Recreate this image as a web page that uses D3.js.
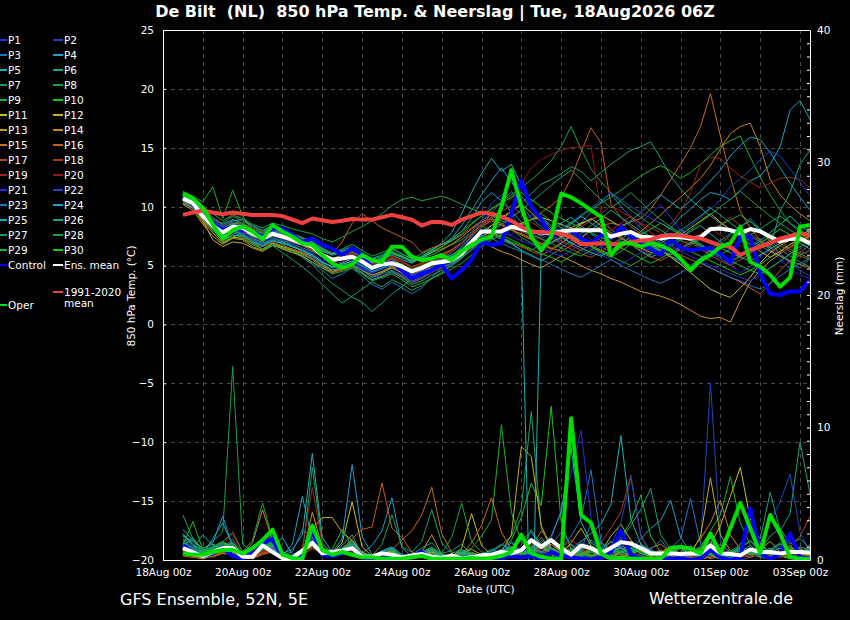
<!DOCTYPE html>
<html><head><meta charset="utf-8">
<script src="https://cdn.jsdelivr.net/npm/d3@7"></script>
<style>
html,body{margin:0;padding:0;background:#000;}
svg{display:block;font-family:"DejaVu Sans",sans-serif;}
</style></head><body>
<svg id="chart" width="850" height="620"></svg>
<script>
// ---------- time axis (forecast hours from 18Aug 00z, 6-hourly from 12z) ----------
const hours = d3.range(12, 391, 6);
const xTickHours = [0,48,96,144,192,240,288,336,384];
const xTickLabels = ["18Aug 00z","20Aug 00z","22Aug 00z","24Aug 00z","26Aug 00z","28Aug 00z","30Aug 00z","01Sep 00z","03Sep 00z"];
const tempTicks = [-20,-15,-10,-5,0,5,10,15,20,25];
const precipMajor = [0,10,20,30,40];

// ---------- 850 hPa temperature (°C) ----------
const tControl = [10.8,10.2,9.3,8.6,8.0,8.3,8.0,7.9, 7.4,8.15,8.15,7.6,7.0,7.3,6.75,6.45, 5.9,6.45,5.9,4.8,5.1,5.3,4.6,3.9, 4.3,4.6,5.1,3.9,4.6,5.5,7.0,6.75, 6.9,9.4,12.2,10.0,8.9,7.45,7.9,8.0, 7.3,6.9,7.6,7.3,8.3,7.45,6.9,6.4, 5.9,7.3,6.5,6.3,6.4,6.5,6.0,5.3, 7.45,7.45,4.3,2.6,2.5,2.8,2.8,3.8];
const tMean = [10.7,10.3,9.2,8.4,7.8,8.3,8.2,7.7, 7.3,7.7,7.45,7.2,6.9,6.6,5.9,5.5, 5.6,5.75,5.35,4.8,5.1,5.2,4.9,4.5, 4.8,5.2,5.3,5.45,6.0,7.0,7.9,7.9, 7.9,8.3,8.1,7.9,7.8,7.75,7.9,8.0, 8.0,8.0,8.0,7.45,7.7,7.85,7.45,7.4, 7.3,7.45,7.4,7.3,7.4,8.1,8.15,8.0, 7.75,8.1,7.9,7.45,7.05,7.25,7.3,6.9];
const tClimate = [9.3,9.5,9.65,9.5,9.35,9.5,9.4,9.3, 9.3,9.3,9.2,8.9,8.6,9.0,8.85,8.7, 8.8,8.95,8.9,8.9,9.1,9.3,9.1,8.9, 8.4,8.7,8.7,8.45,8.9,9.2,9.5,9.4, 9.15,8.8,8.3,7.9,7.8,7.8,7.7,7.4, 6.8,6.85,6.9,6.8,6.8,7.0,7.1,7.2, 7.5,7.6,7.55,7.4,7.3,7.0,6.7,6.6, 5.9,6.3,6.6,6.9,7.3,7.5,7.75,7.6];
const tOper = [11.1,10.7,9.9,8.5,7.3,8.0,8.3,7.9, 7.2,8.45,7.9,7.45,6.9,6.75,5.9,5.2, 4.8,5.1,5.9,5.45,5.3,6.6,6.6,5.75, 5.45,5.6,5.9,5.45,6.2,6.75,7.2,7.45, 10.0,13.1,10.0,7.45,6.3,7.45,11.1,10.8, 10.3,9.7,9.15,5.9,6.9,6.9,6.6,6.9, 6.7,6.3,5.6,4.6,5.45,5.9,6.6,6.9, 8.3,5.3,4.9,4.2,3.2,4.0,8.3,8.45];

const tP1 = [10.9,10.4,9.6,8.9,8.2,8.6,8.5,8.0, 7.6,7.9,7.3,7.0,6.4,6.0,5.5,5.2, 5.6,5.3,4.7,4.1,4.5,4.9,4.3,3.8, 4.2,4.9,5.6,5.9,6.5,7.4,8.6,9.1, 8.2,7.6,8.4,9.3,8.8,7.7,6.9,7.4, 8.1,7.2,6.6,6.1,6.8,7.5,8.6,9.4, 10.2,9.1,8.0,7.3,6.6,6.0,5.6,5.0, 4.4,4.9,5.8,6.3,5.5,4.7,4.2,3.9];
const tP2 = [10.6,10.2,9.1,8.0,7.4,7.9,7.6,7.2, 6.9,7.3,7.0,6.8,6.2,5.7,5.0,4.6, 4.9,5.3,4.8,4.3,3.9,4.4,4.0,3.5, 3.9,4.6,5.0,5.4,6.1,7.6,8.8,10.3, 11.0,9.4,8.1,7.2,6.6,6.9,7.5,6.8, 6.3,5.9,6.6,7.4,8.2,7.1,6.5,5.9, 6.4,7.3,8.1,7.4,6.9,6.2,5.6,5.1, 5.8,6.7,7.3,6.5,5.9,5.2,4.6,4.1];
const tP3 = [11.0,10.5,9.4,8.6,7.9,8.1,7.7,7.0, 6.6,7.0,6.5,6.1,5.8,5.2,4.6,3.9, 4.3,4.8,4.1,3.4,3.0,3.6,3.1,2.6, 3.1,4.0,4.8,5.1,5.7,6.9,8.2,9.5, 10.4,11.3,10.2,9.0,8.3,7.5,6.8,7.7, 8.6,9.5,10.4,11.1,10.0,9.1,8.2,7.3, 6.5,5.8,5.2,4.7,5.3,6.1,6.8,7.6, 8.3,9.0,8.1,7.0,6.0,5.3,4.8,5.6];
const tP4 = [10.5,10.1,9.3,8.7,8.3,8.8,8.9,8.4, 8.0,8.4,8.1,7.7,7.3,7.0,6.4,6.0, 6.3,6.6,6.1,5.6,5.9,6.4,6.0,5.5, 5.8,6.3,6.8,7.2,7.9,9.0,10.4,11.2, 10.5,9.6,8.7,8.0,7.5,7.9,8.6,9.1, 8.4,7.7,7.1,6.6,7.2,7.9,7.3,6.8, 7.4,8.2,9.1,9.8,10.6,11.2,11.0,10.6, 11.4,12.2,12.6,13.6,15.1,18.2,19.0,17.4];
const tP5 = [11.2,10.8,9.9,9.1,8.5,8.9,8.6,8.1, 7.8,8.2,7.8,7.5,7.1,6.8,6.2,5.9, 6.1,6.4,5.8,5.2,5.5,5.9,5.5,5.2, 5.7,6.3,6.9,7.8,9.4,11.2,12.8,14.1, 13.0,13.6,11.8,10.1,9.0,8.2,7.5,6.9, 7.4,8.0,8.7,8.1,7.4,6.8,6.2,5.7, 6.1,6.6,7.2,7.9,8.4,7.7,7.0,6.4, 5.9,6.5,7.1,7.8,8.5,9.2,8.4,7.8];
const tP6 = [10.4,10.0,8.9,8.2,7.3,7.8,7.5,7.1, 6.7,7.1,6.9,6.6,6.3,5.9,5.3,4.8, 5.0,5.4,4.9,4.4,4.7,5.0,4.6,4.1, 4.5,5.0,5.4,5.8,6.4,7.2,7.9,8.4, 8.9,9.6,10.3,11.1,11.9,12.3,12.8,13.4, 13.0,12.2,12.9,13.6,14.2,14.8,15.1,15.5, 14.1,12.6,11.5,10.6,9.9,9.2,8.6,8.1, 7.6,7.1,6.7,6.2,5.8,5.4,5.9,6.3];
const tP7 = [11.1,10.6,9.7,8.8,8.0,8.4,8.0,7.4, 6.9,7.2,6.8,6.3,5.7,5.1,4.2,3.5, 2.9,2.3,1.9,1.1,1.8,2.6,3.2,3.9, 4.4,4.9,5.3,5.8,6.6,7.5,8.3,9.0, 8.6,8.1,7.4,6.9,6.4,6.9,7.3,7.8, 7.2,6.6,6.1,5.7,6.2,6.8,7.4,6.9, 6.3,5.8,5.4,5.0,5.6,6.3,7.1,7.7, 8.3,8.8,7.9,7.1,6.4,5.8,5.3,4.9];
const tP8 = [10.8,10.3,9.5,8.9,8.6,9.2,8.8,8.3, 7.9,8.3,8.0,7.7,7.4,7.0,6.5,6.1, 6.4,6.8,6.3,5.8,6.1,6.5,6.0,5.6, 6.0,6.4,6.8,7.3,7.9,8.6,9.2,9.8, 10.4,11.0,11.6,12.3,13.0,13.9,15.1,16.8, 14.9,13.2,12.1,11.2,10.4,9.7,9.1,8.5, 8.0,7.5,7.1,6.8,7.3,7.9,8.4,8.9, 9.3,8.7,8.1,7.5,6.9,6.4,6.0,5.6];
const tP9 = [11.3,10.9,10.4,11.7,9.0,11.4,9.2,8.0, 7.5,7.6,7.1,6.9,6.5,6.2,5.8,5.4, 5.7,6.1,5.7,5.3,5.6,6.0,5.7,5.3, 5.6,5.9,6.3,6.8,7.2,7.8,8.4,7.9, 7.4,7.0,6.7,6.3,6.8,7.4,8.0,8.6, 9.2,9.8,10.3,10.8,11.4,12.0,12.6,13.1, 13.5,13.0,12.4,12.9,13.6,14.4,15.1,15.6, 16.0,14.2,12.5,11.0,9.7,8.6,7.8,7.1];
const tP10 = [10.7,10.2,9.0,8.3,7.6,8.1,8.0,7.5, 7.2,7.6,7.4,7.1,6.8,6.5,5.9,5.6, 5.8,6.0,5.5,5.0,5.3,5.5,5.1,4.7, 5.0,5.4,5.6,5.9,6.4,7.1,7.7,8.1, 7.6,7.2,6.8,6.4,6.0,5.7,5.3,5.8, 6.3,6.9,7.5,7.0,6.5,6.1,5.6,5.2, 5.6,6.1,6.6,6.2,5.8,5.4,5.0,4.6, 4.2,4.6,5.1,5.7,6.2,6.8,7.3,7.9];
const tP11 = [10.3,9.9,8.7,7.8,6.9,7.4,7.3,6.8, 6.4,6.9,6.6,6.4,6.1,5.8,5.3,4.9, 5.2,5.6,5.2,4.7,5.0,5.4,5.1,4.6, 4.9,5.3,5.5,5.7,6.1,6.6,7.2,7.6, 8.0,8.3,8.6,8.9,9.1,8.8,8.5,8.2, 8.6,8.9,9.3,8.8,8.3,7.8,7.3,6.8, 6.3,5.7,5.1,4.4,3.7,3.0,2.6,2.3, 3.1,4.0,5.2,6.1,6.7,7.2,7.6,8.0];
const tP12 = [10.6,10.1,8.8,7.2,6.6,7.0,6.9,6.5, 6.2,6.7,6.5,6.3,6.0,5.6,5.0,4.5, 4.8,5.1,4.6,4.0,4.4,4.8,4.4,3.9, 4.3,4.8,5.1,5.5,6.0,6.7,7.6,8.4, 9.1,9.6,10.2,9.5,8.7,8.0,7.4,7.9, 8.5,9.0,8.4,7.8,7.3,6.9,6.5,6.1, 6.6,7.1,7.6,8.2,8.8,9.4,8.7,8.0, 7.4,6.8,6.2,5.7,6.2,6.8,7.2,7.5];
const tP13 = [10.2,9.7,8.5,7.5,6.8,7.3,7.2,6.6, 6.3,6.8,6.4,6.1,5.8,5.3,4.8,4.4, 4.7,5.0,4.6,4.2,4.5,4.9,4.6,4.2, 4.6,5.0,5.3,5.6,6.0,6.5,7.0,6.6, 6.2,5.9,5.5,5.1,4.8,5.3,5.8,5.4, 5.0,4.6,4.3,3.9,3.6,3.2,2.8,2.6, 2.4,2.1,1.7,1.2,0.7,0.5,0.6,0.2, 2.0,3.6,4.6,5.4,6.0,6.6,7.1,7.5];
const tP14 = [10.9,10.5,9.7,8.7,7.9,8.5,8.3,7.8, 7.4,7.9,7.6,7.3,7.0,6.7,6.0,5.6, 5.9,6.2,5.7,5.2,5.6,6.1,5.8,5.4, 5.7,6.1,6.4,6.8,7.4,8.1,8.7,9.0, 8.5,8.1,7.6,7.2,6.8,6.4,6.9,7.5, 7.1,6.7,6.3,5.9,6.5,7.2,7.9,8.6, 9.3,10.1,10.8,11.6,12.4,13.5,14.9,16.2, 16.8,17.1,15.1,12.3,11.0,10.1,9.4,8.8];
const tP15 = [10.5,10.0,9.0,8.1,7.5,8.0,7.9,7.3, 7.0,7.5,7.3,7.0,6.7,6.3,5.7,5.3, 5.5,5.8,5.4,4.9,5.2,5.6,5.3,4.9, 5.2,5.6,5.9,6.3,6.9,7.6,8.3,8.8, 8.4,8.0,7.7,7.3,6.9,6.5,6.2,6.7, 7.3,8.0,8.3,8.6,8.4,8.7,9.0,9.8, 11.0,12.3,13.6,15.0,16.8,19.6,16.0,12.5, 9.6,8.2,7.1,6.3,5.8,5.4,5.1,4.8];
const tP16 = [10.8,10.4,9.5,8.6,7.7,8.2,8.1,7.6, 7.3,7.7,7.5,7.3,7.0,6.8,6.3,6.0, 7.0,8.6,9.4,8.8,8.2,7.8,7.4,7.0, 6.1,6.5,6.8,7.1,7.6,8.2,8.8,9.3, 9.0,8.7,8.4,8.9,9.5,10.1,10.8,12.4, 14.6,16.7,15.4,10.2,9.1,8.3,7.7,7.2, 6.7,6.3,5.9,5.5,5.2,4.8,4.4,4.0, 3.6,3.1,2.6,3.5,4.6,5.4,6.1,6.8];
const tP17 = [10.4,9.9,8.8,8.0,7.2,7.6,7.4,6.9, 6.6,7.0,6.7,6.4,6.1,5.6,4.9,4.4, 4.6,4.9,4.4,3.8,4.1,4.5,4.1,3.6, 3.9,4.4,4.8,5.2,5.8,6.6,7.3,7.8, 7.3,6.9,6.6,6.2,5.9,6.3,6.8,6.4, 6.0,5.7,6.2,6.8,7.3,6.8,6.3,5.8, 5.4,5.9,6.5,7.0,6.4,5.9,5.4,5.0, 5.5,6.0,6.6,7.2,6.7,6.2,5.8,5.5];
const tP18 = [11.0,10.6,9.8,9.1,8.4,8.7,8.6,8.2, 7.8,8.1,7.8,7.4,7.0,6.6,5.9,5.4, 5.6,5.9,5.3,4.7,5.0,5.4,5.0,4.5, 4.8,5.3,5.7,6.1,6.8,7.7,8.5,9.1, 9.6,10.1,9.4,8.7,8.1,7.6,7.1,6.7, 6.3,6.8,7.4,8.0,8.6,9.2,8.5,7.8, 7.2,6.7,6.2,6.7,7.3,7.9,8.5,9.1, 8.4,7.7,7.1,6.6,6.1,6.5,7.0,7.4];
const tP19 = [10.6,10.2,9.3,8.5,7.8,8.3,8.2,7.7, 7.3,7.8,7.5,7.2,6.9,6.6,5.9,5.5, 5.8,6.1,5.6,5.0,5.4,5.8,5.4,4.9, 5.2,5.7,6.0,6.4,7.0,7.8,8.5,8.9, 8.5,8.2,7.9,7.5,7.2,6.9,7.3,7.8, 8.3,8.8,9.4,10.1,9.6,9.1,8.6,8.2, 7.8,8.5,9.6,11.2,13.6,14.2,14.1,13.3, 12.6,12.1,11.6,12.0,12.4,12.5,12.3,11.6];
const tP20 = [10.9,10.5,9.4,8.5,7.9,8.2,8.1,7.7, 7.4,7.6,7.3,7.1,6.8,6.4,5.8,5.4, 5.7,6.0,5.6,5.1,5.4,5.7,5.3,4.8, 5.1,5.5,5.8,6.2,6.8,7.6,8.3,9.0, 9.8,10.7,11.9,13.3,14.0,14.4,14.8,15.0, 15.1,15.2,9.4,8.1,7.5,7.0,6.6,6.2, 5.9,6.3,6.8,7.2,7.7,8.1,7.6,7.1, 6.7,6.3,6.8,7.4,7.0,6.6,6.2,5.9];
const tP21 = [10.7,10.3,9.2,8.3,7.6,8.0,7.8,7.4, 7.0,7.5,7.2,6.9,6.5,6.1,5.4,4.9, 5.1,5.4,4.9,4.4,4.7,5.1,4.7,4.2, 4.5,4.9,5.2,5.5,6.0,6.8,7.6,8.2, 7.8,7.5,7.1,6.8,6.5,6.1,5.8,6.3, 6.8,6.4,5.9,5.5,5.1,5.6,6.1,6.6, 7.1,6.7,6.2,5.8,5.4,5.0,4.7,4.3, 4.0,3.7,4.2,4.8,5.3,5.9,6.4,6.9];
const tP22 = [11.1,10.7,9.8,9.0,8.3,8.7,8.4,7.9, 7.5,7.9,7.6,7.3,7.0,6.5,5.7,5.1, 5.3,5.6,5.1,4.5,4.8,5.2,4.8,4.3, 4.7,5.2,5.6,6.1,6.9,7.9,8.8,9.5, 9.1,8.7,8.2,7.8,7.3,7.7,8.2,8.7, 9.3,9.9,10.5,11.2,10.6,10.0,9.5,9.0, 8.6,8.2,7.8,8.4,9.1,9.8,10.6,11.7, 12.4,13.1,14.0,14.7,14.3,13.2,12.1,10.9];
const tP23 = [10.5,10.1,9.0,8.2,7.5,7.9,7.7,7.2, 6.8,7.2,6.9,6.6,6.2,5.8,5.1,4.6, 4.8,5.1,4.6,4.0,4.3,4.6,4.2,3.7, 4.0,4.5,4.9,5.2,5.7,6.3,6.9,7.3, 6.9,6.5,6.2,5.8,5.5,5.1,4.7,4.3, 4.0,4.5,5.0,5.5,5.0,4.6,4.2,3.8, 3.5,3.9,4.4,4.9,5.3,4.8,4.4,4.0, 3.7,3.3,3.0,3.5,4.1,4.7,5.2,5.6];
const tP24 = [10.8,10.4,9.4,8.7,8.1,8.5,8.3,7.8, 7.5,8.0,7.7,7.5,7.2,6.9,6.3,5.9, 6.1,6.4,5.9,5.3,5.7,6.1,5.7,5.3, 5.6,6.1,6.6,7.3,8.4,9.7,11.0,12.2, 13.3,12.1,10.9,9.9,9.1,8.4,7.8,8.5, 9.2,8.6,8.0,7.6,8.2,8.8,9.5,10.3, 11.0,10.4,9.8,10.5,11.3,12.2,13.1,14.3, 15.2,15.9,15.7,14.6,13.3,12.0,10.8,9.7];
const tP25 = [10.3,9.9,8.9,8.0,7.1,7.6,7.5,7.0, 6.7,7.1,6.9,6.6,6.3,5.9,5.3,4.9, 5.1,5.4,5.0,4.5,4.8,5.2,4.9,4.4, 4.7,5.1,5.4,5.7,6.2,6.9,7.5,7.9, 7.4,6.9,6.3,-30,6.6,7.0,7.4,6.9, 6.5,6.1,5.8,6.3,6.9,7.4,7.0,6.6, 6.2,5.9,6.4,6.9,7.4,7.0,6.5,6.1, 5.7,5.4,5.9,6.4,6.9,7.4,6.9,6.4];
const tP26 = [11.0,10.6,9.6,8.8,8.0,8.4,8.1,7.6, 7.2,7.4,7.0,6.7,6.3,5.9,5.2,4.6, 4.8,5.0,4.4,3.8,4.1,4.5,4.0,3.4, 3.7,4.2,4.6,5.0,5.6,6.4,7.1,7.7, 7.2,6.8,6.3,5.9,5.4,5.9,6.5,7.1, 7.7,8.4,9.0,9.7,9.1,8.5,7.9,7.4, 6.9,7.4,8.0,8.6,9.2,9.9,9.3,8.6, 8.0,7.5,7.0,6.5,9.6,11.2,13.6,14.8];
const tP27 = [10.9,10.4,9.3,8.4,7.7,8.0,7.6,7.0, 6.4,6.7,6.1,5.5,4.9,4.2,3.4,2.6, 1.8,2.4,3.0,3.6,3.2,3.8,3.4,2.9, 3.3,3.9,4.4,5.0,5.7,6.6,7.4,8.0, 8.5,9.1,9.7,10.4,11.1,11.8,12.5,13.1, 12.3,11.4,10.6,9.9,10.5,11.2,10.4,9.6, 8.9,8.3,7.7,7.2,6.7,6.3,5.9,6.4, 7.0,7.6,8.1,8.7,9.2,8.6,8.0,7.5];
const tP28 = [11.2,10.8,10.0,9.4,8.8,9.3,9.0,8.5, 8.2,8.6,8.4,8.1,7.9,7.7,7.3,7.0, 7.4,7.9,8.3,8.8,9.4,10.1,10.6,10.8, 10.5,10.7,10.9,10.6,10.2,9.8,9.5,9.2, 8.8,8.4,8.0,7.6,7.3,6.9,6.5,6.1, 5.8,6.3,6.9,7.5,8.1,7.6,7.1,6.7, 6.3,6.8,7.4,8.0,8.7,9.3,10.0,10.6, 11.3,10.6,9.9,9.2,8.6,8.0,7.5,7.0];
const tP29 = [10.6,10.1,8.9,8.1,7.0,7.5,7.3,6.8, 6.4,6.8,6.5,6.2,5.9,5.5,4.8,4.3, 4.5,4.8,4.3,3.7,4.0,4.3,3.8,3.2, 3.5,3.9,4.3,4.7,5.2,5.9,6.6,7.2, 7.6,8.1,8.5,8.9,9.4,8.8,8.2,7.6, 7.1,6.6,6.2,5.8,5.4,5.0,5.5,6.0, 6.6,7.2,7.8,7.3,6.8,6.3,5.8,5.4, 5.0,4.6,4.3,4.8,5.4,6.0,6.6,7.1];
const tP30 = [10.9,10.5,9.5,8.7,8.1,8.6,8.5,8.0, 7.7,8.1,7.9,7.6,7.3,7.0,6.4,6.0, 6.2,6.5,6.0,5.5,5.8,6.2,5.8,5.4, 5.7,6.2,6.6,7.1,7.7,8.5,9.2,9.8, 10.3,10.8,11.2,10.6,10.0,9.5,9.0,8.6, 8.2,7.8,7.4,7.0,6.6,7.1,7.6,8.1, 8.6,8.1,7.6,7.1,6.6,6.2,5.8,5.4, 5.8,6.3,6.9,7.5,8.1,7.6,7.1,6.7];

// ---------- precipitation (mm per 6 h) ----------
const pControl = [1.1,0.6,0.3,0.5,0.9,0.3,0.1,0.6, 1.3,1.6,0.2,0.1,0.3,2.2,0.4,0.3, 0.5,0.9,0.2,0.1,0.2,0.2,0.1,0.3, 0.6,0.1,0.1,0.3,0,0.1,0.1,0, 0.2,0.3,0.2,0.3,0.1,0.6,0.3,0.2, 0.1,0,0.2,0.6,2.2,0.4,0.1,0, 0,0.1,0.1,0,0.1,0.8,0.2,0, 0.2,3.9,0.5,0.1,0.4,2.0,0.2,0.1];
const pMean = [0.9,0.6,0.3,0.6,0.9,0.9,0.25,0.25, 1.1,0.6,0.15,0.15,0.7,1.3,0.5,0.6, 0.7,0.9,0.25,0.25,0.5,0.4,0.2,0.35, 0.45,0.25,0.15,0.35,0.1,0.2,0.35,0.4, 0.6,0.5,0.75,1.5,1.0,1.5,0.9,0.4, 1.1,0.9,0.5,0.9,1.35,1.25,0.9,0.5, 0.5,0.5,0.45,0.5,0.5,1.1,0.5,0.45, 0.35,0.8,0.6,0.6,0.5,0.6,0.6,0.55];
const pOper = [0.5,0.4,0.4,0.6,0.75,0.75,0.5,0.9, 1.5,2.3,0.4,0.15,0.1,2.6,0.75,0.4, 0.6,0.4,0.2,0.2,0.1,0.1,0.1,0.2, 0.3,0.1,0.1,0.1,0.1,0.15,0.1,0.15, 0.3,0.6,1.9,0.5,0.25,0.1,0.1,10.7, 3.4,2.8,0.5,0.1,0.15,0.1,0.1,0.1, 0.1,0.9,1.0,0.85,0.5,2.0,0.5,2.4, 4.3,2.4,0.5,3.4,2.0,0.2,0.1,0.1];

const pP1 = [1.2,0.8,0.4,0.6,1.0,1.5,0.3,0.2, 0.9,1.3,0.3,0.1,0.5,1.8,0.6,0.4, 0.7,1.0,0.2,0.1,0.3,0.4,0.1,0.3, 0.5,0.2,0,0.2,0,0.1,0.3,0.1, 0,0.2,0.4,0.6,0.3,0.8,0.2,0.1, 0.3,0.1,0,0.4,1.2,0.5,0.2,0, 0,0.1,0.3,0,0.2,2.1,0.4,0, 0.1,0.6,0.3,0.2,0.5,1.5,0.3,0.1];
const pP2 = [0.9,0.5,0.2,0.4,0.7,0.9,0.2,0.4, 1.1,0.8,0.2,0,0.3,1.4,0.4,0.2, 0.5,0.8,0.3,0,0.1,0.2,0,0.1, 0.3,0.1,0,0,0.1,0,0.2,0.4, 0.2,0.5,1.1,0.3,0.1,0.2,0.6,0.3, 0.1,0,0.2,0.1,0.5,0.8,0.2,0, 0.1,0,0.2,0.4,1.0,13.4,1.5,0.3, 0,0.2,0.4,0.1,0.3,0.2,0.1,0];
const pP3 = [1.5,1.0,0.6,0.8,1.2,0.7,0.3,0.5, 1.4,0.9,0.4,0.2,0.8,2.0,0.5,0.3, 0.6,1.2,0.4,0.2,0.5,0.3,0.1,0.2, 0.4,0.6,0.2,0.1,0.3,0.2,0.1,0.5, 0.8,0.4,0.3,1.2,0.6,0.4,0.9,1.8, 3.1,6.8,1.4,0.5,0.9,0.3,0.2,0.1, 0.4,0.9,1.6,4.65,1.2,0.3,0.1,0, 0.2,0.5,0.2,0.1,0.4,0.2,0,0.1];
const pP4 = [2.0,1.2,0.5,1.6,2.8,1.1,0.4,0.6, 1.0,0.7,0.3,1.2,4.8,1.5,0.6,0.3, 0.8,1.4,0.5,1.1,2.2,4.7,0.9,0.3, 0.5,0.8,0.3,0.2,0.6,0.4,0.2,0.1, 0.3,0.7,0.2,0.5,0.3,0.1,0.4,0.6, 0.2,0.8,0.3,0.1,0.6,0.4,0.2,0.5, 0.3,0.8,0.2,0.1,0.4,0.6,0.2,0.1, 0.5,0.3,0.8,0.4,0.2,0.5,0.3,0.1];
const pP5 = [1.8,1.4,0.9,1.2,0.8,0.6,0.4,0.7, 1.6,1.1,0.5,0.8,1.9,8.05,1.7,0.6, 0.9,1.5,0.4,0.3,0.6,0.9,0.3,0.2, 0.7,0.4,0.1,0.3,0.5,0.2,0.4,0.8, 0.5,1.3,0.6,0.9,1.7,0.8,1.1,0.6, 1.4,2.0,2.7,4.2,9.4,3.1,1.2,0.5, 0.3,0.7,0.4,0.2,0.6,0.3,0.1,0.4, 0.2,0.5,0.3,0.8,0.4,0.2,0.6,0.3];
const pP6 = [1.0,1.7,0.6,0.9,1.3,0.8,0.5,0.3, 0.9,2.1,0.6,0.2,0.4,1.6,0.8,0.5, 1.1,1.9,0.3,0.1,0.4,0.7,0.2,0.4, 0.9,1.3,0.5,0.7,1.2,0.4,0.2,0.3, 0.6,0.9,0.4,0.2,1.0,0.5,0.3,0.7, 0.4,0.2,0.5,0.9,0.6,0.3,1.1,0.8, 0.4,0.2,0.6,0.3,0.9,1.4,0.7,0.3, 1.2,2.4,1.6,5.1,2.2,3.5,8.9,5.0];
const pP7 = [0.7,0.4,0.3,0.5,0.9,1.1,0.2,0.1, 0.6,1.0,0.3,0.1,0.4,7.0,1.3,0.5, 0.8,1.1,0.3,0.2,0.4,0.6,0.1,0.2, 0.5,0.3,0.1,0.2,0.8,0.4,0.2,0.6, 1.1,1.8,3.9,11.2,2.4,0.9,0.5,0.3, 0.6,0.4,0.2,0.7,0.3,0.5,0.9,0.4, 0.2,0.1,0.5,0.3,0.2,0.6,0.4,0.1, 0.3,0.8,0.5,0.2,0.4,0.9,0.6,0.3];
const pP8 = [3.4,1.6,0.8,1.4,2.1,14.6,1.2,0.6, 1.3,1.8,0.5,0.3,0.7,1.5,0.6,0.4, 0.7,1.2,0.4,0.2,0.5,0.8,0.3,0.2, 0.6,1.0,0.4,0.3,0.7,0.5,0.3,0.2, 0.4,0.6,0.3,0.8,0.5,0.2,0.7,1.2, 0.6,0.3,0.5,0.9,0.4,0.6,1.0,0.5, 0.3,0.6,0.2,0.4,0.8,0.5,0.3,0.6, 0.9,1.4,0.6,0.3,0.7,1.1,0.5,0.8];
const pP9 = [1.3,0.9,0.5,0.7,1.1,0.9,0.4,0.3, 0.8,1.2,0.4,0.2,0.6,1.7,0.7,0.3, 0.5,0.9,0.3,0.1,0.4,0.6,0.2,0.1, 0.4,0.7,0.3,0.2,0.6,0.9,1.8,3.0, 10.2,3.6,1.4,0.6,0.9,0.4,0.7,0.3, 0.5,0.8,0.4,0.2,0.6,0.9,0.5,0.3, 0.4,0.7,0.3,0.6,1.0,2.2,3.4,6.3, 2.8,1.1,0.5,0.8,0.4,0.2,0.6,0.9];
const pP10 = [0.8,0.6,0.4,0.9,0.7,1.2,0.3,0.2, 0.7,0.9,0.3,0.1,0.5,1.3,0.4,0.2, 0.6,0.8,0.2,0.1,0.3,0.5,0.2,0.1, 0.3,0.5,0.2,0.1,0.4,0.3,0.1,0.4, 0.7,1.5,3.2,5.8,4.1,11.6,2.9,0.8, 0.4,0.6,0.3,0.8,1.7,2.9,4.9,1.8, 0.6,0.3,0.5,0.2,0.4,0.7,0.3,0.1, 0.4,0.6,0.2,0.5,0.3,0.1,0.4,0.2];
const pP11 = [0.6,0.4,0.2,0.5,0.8,0.6,0.3,0.4, 1.0,0.8,0.3,0.1,0.4,1.2,0.9,0.5, 1.3,4.4,1.0,0.3,0.5,0.7,0.2,0.1, 0.4,0.6,0.3,0.2,0.9,3.5,1.1,0.4, 0.2,0.5,0.3,0.6,1.0,0.4,0.2,0.5, 0.8,0.3,0.6,0.4,0.2,0.5,0.7,0.3, 0.6,1.0,0.4,0.2,0.5,1.2,2.6,4.8, 7.0,3.1,1.2,0.6,0.3,0.8,0.5,0.2];
const pP12 = [0.5,0.3,0.2,0.4,0.6,0.8,0.2,0.3, 0.7,1.0,0.4,0.2,0.6,2.4,3.2,3.2, 2.1,1.5,0.6,0.3,0.5,0.4,0.2,0.1, 0.3,0.2,0.1,0.3,0.5,0.8,0.4,0.2, 0.6,1.9,8.55,7.8,2.6,0.9,0.5,1.3, 2.4,1.1,0.6,1.8,2.7,1.5,0.8,0.4, 0.3,0.6,0.9,0.4,1.8,6.2,1.9,0.7, 0.3,0.5,0.8,1.4,0.6,0.3,0.5,0.2];
const pP13 = [0.4,0.3,0.1,0.3,0.5,0.4,0.2,0.1, 0.5,0.7,0.2,0.1,0.3,3.6,1.0,0.4, 0.6,0.9,0.3,0.1,0.2,0.4,0.1,0.3, 0.6,1.9,0.4,0.2,0.3,0.1,0.2,0.4, 0.3,0.5,0.2,0.4,0.9,0.6,0.3,0.2, 0.4,0.7,0.3,0.6,0.9,0.4,0.2,0.3, 0.1,0.2,0.1,0,0.1,0.2,0.5,0.3, 0.6,0.9,0.4,0.3,0.6,1.0,0.4,0.2];
const pP14 = [0.6,0.5,0.3,0.6,0.9,0.7,0.4,1.3, 3.8,1.5,0.4,0.2,0.6,1.0,0.5,0.3, 0.4,0.7,0.2,0.1,0.3,0.6,0.2,0.1, 0.4,0.3,0.2,0.1,0.3,0.5,0.2,0.3, 0.6,0.9,0.4,0.3,0.7,1.2,0.6,0.4, 0.3,0.8,0.5,0.2,0.6,1.4,0.7,0.3, 0.5,1.0,0.4,0.7,1.6,2.8,4.5,1.9, 0.8,0.5,0.3,0.7,0.4,0.2,0.5,0.3];
const pP15 = [0.5,0.4,0.2,0.5,0.7,0.9,0.3,0.2, 0.6,0.8,0.3,0.1,0.4,1.1,0.6,0.3, 0.5,0.7,0.3,0.2,0.4,0.8,1.5,2.2, 3.4,5.5,2.0,0.6,0.4,1.3,2.6,4.7, 2.1,0.8,0.4,0.6,1.5,0.9,0.4,0.2, 0.5,0.8,0.3,0.6,0.4,0.2,0.5,0.9, 1.2,0.6,0.3,0.2,0.4,0.1,0.3,0.6, 0.4,0.2,0.5,0.8,0.3,0.6,0.9,0.4];
const pP16 = [0.3,0.2,0.1,0.4,0.6,0.5,0.2,0.1, 0.4,0.6,0.2,0.1,0.3,0.9,0.5,0.2, 0.8,1.6,2.3,2.5,5.8,2.4,1.7,0.6, 0.4,0.8,0.3,0.2,0.5,0.3,0.1,0.2, 0.4,0.6,0.3,0.9,2.2,1.4,0.6,0.3, 0.5,0.9,0.4,0.2,0.6,0.3,0.1,0.4, 0.7,0.3,0.2,0.5,0.9,0.4,0.2,0.1, 0.3,0.6,0.8,0.4,0.2,0.5,0.3,1.2];
const pP17 = [0.4,0.6,0.3,0.2,0.5,1.0,0.4,0.2, 0.5,0.7,0.2,0.1,0.4,1.5,0.6,0.2, 0.4,0.6,0.2,0.1,0.3,0.2,0.1,0.2, 0.3,0.5,0.2,0.1,0.2,0.4,0.1,0.2, 0.4,0.7,0.3,0.5,0.9,0.4,0.7,1.1, 0.5,0.3,0.6,0.8,0.4,1.2,0.6,0.3, 0.2,0.4,0.6,0.3,0.5,0.2,0.4,0.7, 0.3,0.5,0.9,0.4,0.6,1.0,1.8,3.3];
const pP18 = [0.7,0.4,0.2,0.5,0.9,1.6,0.5,0.3, 0.8,1.0,0.3,0.2,0.5,2.2,0.7,0.3, 0.5,0.8,0.3,0.2,0.4,0.6,0.2,0.1, 0.3,0.4,0.2,0.1,0.3,0.2,0.1,0.3, 0.5,0.8,0.3,1.1,0.7,0.4,0.9,1.5, 1.0,0.6,1.3,2.4,3.6,6.4,1.8,0.5, 0.3,0.6,0.8,0.4,0.7,1.1,0.5,0.3, 0.2,0.5,0.7,0.3,0.6,0.4,0.2,0.5];
const pP19 = [0.6,0.5,0.3,0.4,0.8,0.7,0.3,0.2, 0.6,0.9,0.4,0.2,0.9,5.5,1.2,0.4, 0.6,0.8,0.3,0.1,0.3,0.5,0.2,0.1, 0.3,0.2,0.1,0.2,0.4,0.3,0.1,0.2, 0.6,0.4,0.8,1.3,0.7,0.5,1.0,0.6, 0.4,0.8,0.5,1.4,0.9,0.6,0.3,0.5, 0.8,0.4,0.2,0.6,0.3,0.5,0.9,0.4, 0.6,0.3,0.5,0.8,0.4,0.7,0.3,0.5];
const pP20 = [0.8,0.6,0.3,0.7,1.0,2.2,0.6,0.3, 0.7,0.8,0.3,0.1,0.4,1.2,0.5,0.3, 0.4,0.7,0.2,0.1,0.2,0.4,0.1,0.2, 0.3,0.2,0.1,0.1,0.2,0.3,0.1,0.2, 0.3,0.5,0.9,0.6,1.2,0.8,0.4,0.3, 0.6,1.0,0.5,0.7,1.3,0.6,0.3,0.2, 0.4,0.3,0.6,0.2,0.4,0.7,0.3,0.1, 0.2,0.4,0.3,0.6,0.2,0.5,0.3,0.2];
const pP21 = [1.1,0.7,0.3,0.5,0.8,1.2,0.4,0.2, 0.8,1.1,0.3,0.1,0.5,1.6,0.5,0.3, 0.6,0.9,0.3,0.1,0.3,0.5,0.2,0.1, 0.4,0.3,0.1,0.2,0.3,0.2,0.4,0.6, 0.3,0.5,0.8,0.4,0.7,1.6,3.8,6.5, 9.8,3.2,1.1,0.5,0.8,0.4,0.2,0.6, 0.3,0.5,0.2,0.4,0.7,0.3,0.5,0.2, 0.4,0.8,0.3,0.6,1.0,0.4,0.2,0.3];
const pP22 = [1.0,0.6,0.4,0.7,1.1,0.8,0.3,0.2, 0.9,1.2,0.4,0.2,0.6,1.9,0.6,0.3, 0.5,0.8,0.2,0.1,0.3,0.4,0.2,0.1, 0.3,0.5,0.2,0.1,0.3,0.2,0.1,0.3, 0.5,0.9,0.4,0.7,1.2,0.6,0.3,0.8, 1.5,0.7,0.4,1.1,2.8,6.2,1.9,0.6, 0.3,0.5,0.9,0.4,0.6,1.2,0.5,0.3, 0.7,0.4,1.3,2.9,4.4,6.5,2.1,0.5];
const pP23 = [1.3,0.9,0.5,0.7,1.0,1.3,0.4,0.3, 1.1,0.8,0.4,0.6,2.3,1.7,0.6,0.4, 0.7,1.0,0.4,0.2,0.4,0.6,0.2,0.1, 0.4,0.3,0.2,0.1,0.4,0.2,0.3,0.5, 0.8,1.4,0.6,0.9,0.5,1.1,2.1,1.2, 0.7,2.8,1.3,0.6,1.0,0.5,0.3,0.8, 1.5,0.6,0.3,1.0,0.4,0.7,0.3,0.2, 0.5,0.9,0.4,0.7,1.2,0.5,0.8,0.4];
const pP24 = [1.9,1.1,0.6,1.3,3.3,1.0,0.4,0.5, 1.2,0.9,0.4,0.2,0.7,1.8,0.9,0.6, 1.6,7.2,1.8,0.4,0.6,0.9,0.3,0.2, 0.5,0.8,0.3,0.2,0.5,0.3,0.2,0.4, 0.7,1.0,0.5,0.8,1.3,0.7,0.4,0.9, 0.6,1.5,0.9,0.5,1.1,0.7,1.6,2.4, 3.0,4.5,1.7,0.6,0.4,0.8,0.5,0.3, 0.6,1.1,0.5,0.9,0.4,0.6,1.0,0.7];
const pP25 = [2.3,1.5,0.7,1.0,1.4,0.9,0.5,0.8, 1.3,1.0,1.7,0.4,0.8,1.4,0.7,0.4, 0.8,1.3,0.5,0.3,0.7,1.0,0.4,0.3, 0.6,0.9,0.4,0.3,0.6,0.4,0.3,0.7, 1.2,0.8,1.5,2.1,1.0,1.8,3.6,8.45, 2.9,1.3,0.8,1.4,0.9,0.5,1.2,0.7, 0.4,0.8,0.5,0.3,0.7,0.4,0.2,0.5, 0.8,0.5,1.1,0.6,0.9,0.4,0.7,0.5];
const pP26 = [1.4,0.8,1.9,1.1,0.9,1.3,0.5,0.4, 1.0,1.4,0.5,0.3,0.6,1.2,0.8,0.5, 0.9,1.2,0.4,0.3,0.5,0.8,0.3,0.2, 0.5,0.7,0.3,0.2,0.4,0.6,0.3,0.2, 0.5,0.8,0.4,1.0,0.6,0.9,0.5,0.3, 0.8,1.1,0.6,0.4,1.5,2.6,3.8,5.4, 1.9,0.8,0.5,0.9,0.4,0.7,1.2,0.6, 0.9,1.5,0.7,1.8,2.4,1.2,1.6,0.9];
const pP27 = [0.9,0.6,0.4,0.8,1.2,1.0,0.5,0.3, 0.8,1.1,0.4,0.2,0.5,2.5,0.9,0.5, 0.8,1.1,0.4,0.3,1.2,3.4,1.0,0.6, 1.4,3.8,1.3,0.5,0.8,0.4,0.3,0.5, 0.6,1.0,0.7,2.3,1.1,0.6,0.9,0.5, 0.4,0.7,1.3,0.8,0.5,1.0,0.6,0.4, 0.7,0.3,0.6,1.1,0.5,0.8,0.4,0.6, 0.9,0.5,0.3,0.7,1.2,0.6,0.4,0.8];
const pP28 = [1.6,1.2,0.7,1.0,1.4,2.0,0.6,1.5, 4.3,1.6,0.5,0.3,0.7,1.5,0.7,0.4, 0.9,1.2,0.4,0.2,0.5,0.8,0.3,0.2, 0.6,0.9,0.5,1.7,4.3,1.4,0.6,0.3, 0.5,0.8,0.4,0.7,1.1,0.6,0.9,0.5, 0.3,0.6,0.9,0.5,0.7,1.2,0.6,0.3, 0.5,0.8,0.4,0.6,1.0,0.5,0.3,0.7, 1.1,0.6,0.4,0.8,1.3,0.7,0.5,0.9];
const pP29 = [1.2,0.8,0.6,0.9,1.3,1.1,0.5,0.4, 1.0,1.3,0.5,0.3,0.6,1.3,0.7,0.8, 2.3,1.0,0.4,0.2,0.4,0.6,0.3,0.1, 0.4,0.7,0.3,0.2,0.5,0.4,0.2,0.3, 0.5,0.7,0.4,0.6,1.2,0.7,0.4,0.8, 0.5,0.3,0.7,1.0,0.6,0.4,0.8,0.5, 0.3,0.6,0.9,0.5,0.3,0.7,0.4,0.2, 0.5,0.8,0.4,0.6,0.3,0.5,0.8,0.4];
const pP30 = [1.1,2.9,0.8,0.6,1.0,1.3,0.4,0.3, 0.9,1.2,0.4,0.2,0.5,1.4,0.6,0.3, 0.7,1.0,0.3,0.2,0.4,0.6,0.2,0.1, 0.3,0.5,0.2,0.1,0.3,0.2,0.1,0.3, 0.6,0.9,0.5,0.7,1.1,0.6,0.4,0.7, 0.4,0.8,0.5,0.3,0.6,0.9,0.5,0.3, 0.4,0.6,0.3,0.5,0.8,0.4,0.2,0.5, 0.7,0.4,0.6,0.3,0.5,0.8,0.4,0.6];

// ---------- member colours (P21..P30 reuse P1..P10) ----------
const memberColors = ["#2a2ad8","#1a48bc","#1a78c4","#1aa2c8","#1ab2b6","#1aa286","#1aa266","#1aa246","#1ab226","#1ac41a",
                      "#c4c41a","#c4b01a","#c4981a","#c4881a","#c4701a","#c4601a","#b8481a","#a8381a","#a0281a","#901a1a"];

const memberTemps = [tP1,tP2,tP3,tP4,tP5,tP6,tP7,tP8,tP9,tP10,tP11,tP12,tP13,tP14,tP15,tP16,tP17,tP18,tP19,tP20,tP21,tP22,tP23,tP24,tP25,tP26,tP27,tP28,tP29,tP30];
const memberPrecs = [pP1,pP2,pP3,pP4,pP5,pP6,pP7,pP8,pP9,pP10,pP11,pP12,pP13,pP14,pP15,pP16,pP17,pP18,pP19,pP20,pP21,pP22,pP23,pP24,pP25,pP26,pP27,pP28,pP29,pP30];

// ---------- drawing ----------
const W = 850, H = 620;
const P = {l:163, r:810, t:30, b:560};
const svg = d3.select("#chart");
svg.append("rect").attr("width", W).attr("height", H).attr("fill", "#000");

const x = d3.scaleLinear().domain([0, 390]).range([P.l, P.r]);
const yT = d3.scaleLinear().domain([-20, 25]).range([P.b, P.t]);
const yP = d3.scaleLinear().domain([0, 40]).range([P.b, P.t]);

svg.append("defs").append("clipPath").attr("id", "clip")
  .append("rect").attr("x", P.l).attr("y", P.t).attr("width", P.r - P.l).attr("height", P.b - P.t);

// grid
const grid = svg.append("g").attr("stroke", "#4a4a4a").attr("stroke-width", 1).attr("stroke-dasharray", "4,4");
grid.selectAll("line.h").data(tempTicks.filter(v => v > -20 && v < 25)).join("line")
  .attr("x1", P.l).attr("x2", P.r).attr("y1", d => Math.round(yT(d)) + 0.5).attr("y2", d => Math.round(yT(d)) + 0.5);
grid.selectAll("line.v").data(d3.range(24, 390, 24)).join("line")
  .attr("y1", P.t).attr("y2", P.b).attr("x1", d => Math.round(x(d)) + 0.5).attr("x2", d => Math.round(x(d)) + 0.5);

const plot = svg.append("g").attr("clip-path", "url(#clip)");
const lineT = d3.line().x((d, i) => x(hours[i])).y(d => yT(d));
const lineP = d3.line().x((d, i) => x(hours[i])).y(d => yP(d));

// members: precipitation then temperature
memberPrecs.forEach((s, k) => {
  plot.append("path").datum(s).attr("d", lineP).attr("fill", "none")
    .attr("stroke", memberColors[k % 20]).attr("stroke-width", 1);
});
memberTemps.forEach((s, k) => {
  plot.append("path").datum(s).attr("d", lineT).attr("fill", "none")
    .attr("stroke", memberColors[k % 20]).attr("stroke-width", 1);
});

function thick(data, gen, color) {
  plot.append("path").datum(data).attr("d", gen).attr("fill", "none")
    .attr("stroke", color).attr("stroke-width", 4).attr("stroke-linejoin", "round");
}
thick(pControl, lineP, "#0000ff");
thick(tControl, lineT, "#0000ff");
thick(pMean, lineP, "#ffffff");
thick(tMean, lineT, "#ffffff");
thick(tClimate, lineT, "#f04040");
thick(pOper, lineP, "#00dd00");
thick(tOper, lineT, "#00dd00");

// axes
function styleAxis(g) {
  g.attr("font-family", "DejaVu Sans, sans-serif").attr("font-size", 10.5);
  g.selectAll(".domain").attr("stroke", "#fff");
  g.selectAll(".tick line").attr("stroke", "#fff");
  g.selectAll(".tick text").attr("fill", "#fff");
}
svg.append("g").attr("transform", `translate(${P.l},0)`)
  .call(d3.axisLeft(yT).tickValues(tempTicks).tickSize(-3).tickSizeOuter(0).tickPadding(9))
  .call(styleAxis);
svg.append("g").attr("transform", `translate(${P.r},0)`)
  .call(d3.axisRight(yP).tickValues(d3.range(0, 41, 1)).tickSize(-3).tickSizeOuter(0).tickPadding(7)
    .tickFormat(d => precipMajor.includes(d) ? d : ""))
  .call(styleAxis);
svg.append("g").attr("transform", `translate(0,${P.b})`)
  .call(d3.axisBottom(x).tickValues(xTickHours).tickSize(0).tickSizeOuter(0).tickPadding(9)
    .tickFormat((d, i) => xTickLabels[i]))
  .call(styleAxis);
svg.append("line").attr("x1", P.l).attr("x2", P.r).attr("y1", P.t + 0.5).attr("y2", P.t + 0.5).attr("stroke", "#fff");

// axis titles
svg.append("text").attr("transform", "translate(135,296) rotate(-90)").attr("text-anchor", "middle")
  .attr("fill", "#fff").attr("font-size", 10.5).text("850 hPa Temp. (°C)");
svg.append("text").attr("transform", "translate(843,296) rotate(-90)").attr("text-anchor", "middle")
  .attr("fill", "#fff").attr("font-size", 10.5).text("Neerslag (mm)");
svg.append("text").attr("x", 486).attr("y", 593).attr("text-anchor", "middle")
  .attr("fill", "#fff").attr("font-size", 10.5).text("Date (UTC)");

// title & footers
svg.append("text").attr("x", 435).attr("y", 17).attr("text-anchor", "middle")
  .attr("fill", "#fff").attr("font-size", 16).attr("font-weight", "bold").style("white-space", "pre")
  .text("De Bilt  (NL)  850 hPa Temp. & Neerslag | Tue, 18Aug2026 06Z");
svg.append("text").attr("x", 120).attr("y", 605).attr("fill", "#fff").attr("font-size", 16)
  .text("GFS Ensemble, 52N, 5E");
svg.append("text").attr("x", 793).attr("y", 604).attr("text-anchor", "end").attr("fill", "#fff").attr("font-size", 16)
  .text("Wetterzentrale.de");

// legend
const leg = svg.append("g").attr("font-size", 10.5).attr("fill", "#fff");
function legItem(col, y, color, label, w) {
  const x0 = col === 0 ? 0 : 53, x1 = col === 0 ? 7 : 63;
  leg.append("line").attr("x1", x0).attr("x2", x1).attr("y1", y).attr("y2", y)
    .attr("stroke", color).attr("stroke-width", w);
  leg.append("text").attr("x", x1 + 1).attr("y", y + 3.8).text(label);
}
memberColors.concat(memberColors.slice(0, 10)).forEach((c, k) => {
  legItem(k % 2, 40 + 15 * Math.floor(k / 2), c, "P" + (k + 1), 2);
});
legItem(0, 265, "#0000ff", "Control", 2);
legItem(1, 265, "#ffffff", "Ens. mean", 2);
legItem(1, 292, "#f04040", "1991-2020", 2);
leg.append("text").attr("x", 64).attr("y", 307).text("mean");
legItem(0, 305, "#00dd00", "Oper", 2);
</script></body></html>
